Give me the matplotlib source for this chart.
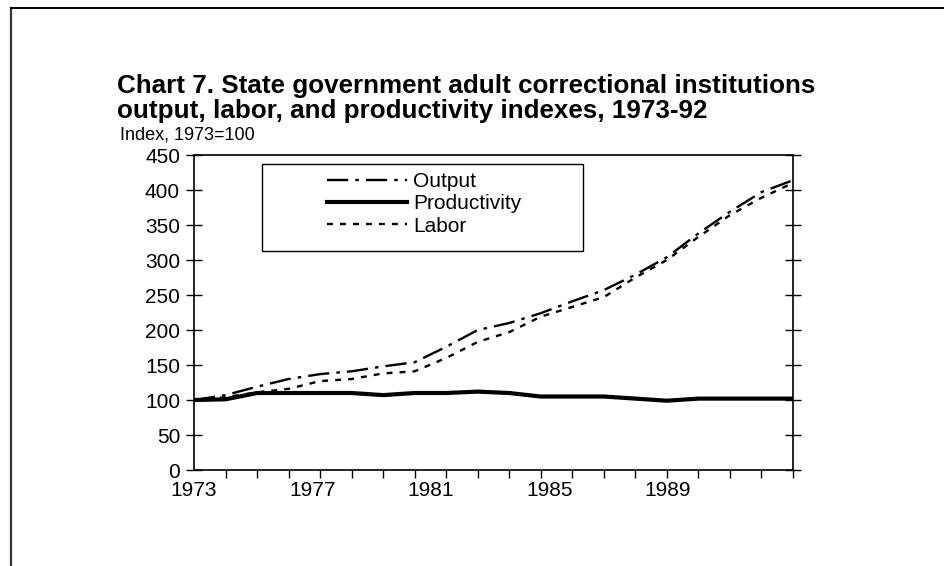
import matplotlib.pyplot as plt
from matplotlib.lines import Line2D
from matplotlib.patches import Rectangle

plt.rcParams['font.family'] = ['Liberation Sans', 'DejaVu Sans']

years = list(range(1973, 1993))
output = [100, 107, 119, 130, 137, 141, 148, 154, 176, 200, 210, 224, 241, 257, 279, 304, 338, 369, 397, 414]
labor = [100, 104, 111, 116, 127, 130, 138, 141, 160, 183, 197, 219, 233, 247, 275, 300, 333, 364, 389, 410]
productivity = [100, 101, 110, 110, 110, 110, 107, 110, 110, 112, 110, 105, 105, 105, 102, 99, 102, 102, 102, 102]
label_years = ['1973', '1977', '1981', '1985', '1989']

fig = plt.figure(figsize=(9.44, 5.66), dpi=100)
ax = fig.add_axes([0.2055, 0.1696, 0.6345, 0.5565])

out_dash = (9, 3, 1.5, 3)
lab_dash = (2.5, 3)
ax.plot(years, output, color='black', lw=1.7, dashes=out_dash, label='Output')
ax.plot(years, productivity, color='black', lw=3.0, solid_joinstyle='round', label='Productivity')
ax.plot(years, labor, color='black', lw=1.7, dashes=lab_dash, label='Labor')

ax.set_xlim(1973, 1992)
ax.set_ylim(0, 450)
ax.set_yticks(range(0, 451, 50))

# tick marks at every year, labels spaced as in the original chart
ax.set_xticks(years, minor=True)
step = 4 * 29.6 / 31.5
ax.set_xticks([1973 + i * step for i in range(len(label_years))], label_years)
ax.tick_params(axis='x', which='major', length=0, pad=8, labelsize=15)
ax.tick_params(axis='x', which='minor', direction='out', length=6, width=1)
ax.tick_params(axis='y', direction='inout', length=12, width=1, labelsize=15,
               right=True, pad=4)
for s in ax.spines.values():
    s.set_linewidth(1.2)

# legend box drawn separately, wider than its content like the original
ax.add_patch(Rectangle((0.1135, 0.695), 0.536, 0.276, transform=ax.transAxes,
                       facecolor='white', edgecolor='black', lw=1.0, zorder=4))
handles = [Line2D([], [], color='black', lw=1.7, dashes=out_dash),
           Line2D([], [], color='black', lw=3.0),
           Line2D([], [], color='black', lw=1.7, dashes=lab_dash)]
leg = ax.legend(handles, ['Output', 'Productivity', 'Labor'],
                loc='upper left', bbox_to_anchor=(0.222, 0.946),
                fontsize=15, frameon=False,
                handlelength=3.85, handletextpad=0.3, labelspacing=0.16,
                borderpad=0, borderaxespad=0)
leg.set_zorder(5)

fig.text(0.124, 0.826, 'Chart 7. State government adult correctional institutions\n'
         'output, labor, and productivity indexes, 1973-92',
         fontsize=18.7, fontweight='bold', ha='left', va='center', linespacing=1.05)
fig.text(0.127, 0.762, 'Index, 1973=100', fontsize=13, ha='left', va='center')

# outer frame (left and top edges)
fig.add_artist(Line2D([0.012, 0.012], [0, 0.986], color='#333333', lw=1.6))
fig.add_artist(Line2D([0.012, 1.0], [0.986, 0.986], color='black', lw=1.4))

fig.savefig('out.png', dpi=100)
